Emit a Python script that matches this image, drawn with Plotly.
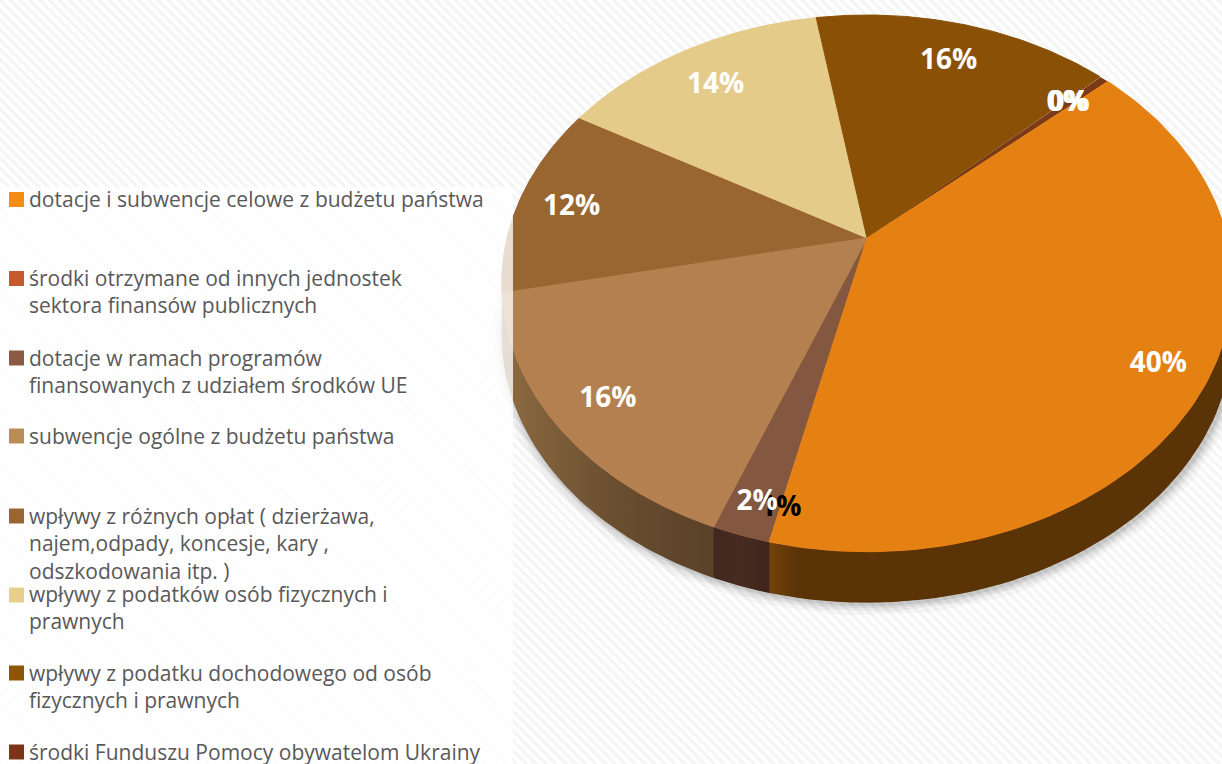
import numpy as np
import plotly.graph_objects as go

# ---------- data ----------
categories = [
    "dotacje i subwencje celowe z budżetu państwa",
    "środki otrzymane od innych jednostek<br>sektora finansów publicznych",
    "dotacje w ramach programów<br>finansowanych z udziałem środków UE",
    "subwencje ogólne z budżetu państwa",
    "wpływy z różnych opłat ( dzierżawa,<br>najem,odpady, koncesje, kary ,<br>odszkodowania itp. )",
    "wpływy z podatków osób fizycznych i<br>prawnych",
    "wpływy z podatku dochodowego od osób<br>fizycznych i prawnych",
    "środki Funduszu Pomocy obywatelom Ukrainy",
]
values = [40.3, 0.0, 2.2, 15.9, 11.6, 14.05, 15.5, 0.5]
labels = ["40%", "1%", "2%", "16%", "12%", "14%", "16%", "0%"]

# ---------- styles / layout ----------
top_colors = ["#E58112", "#C55A2E", "#845840", "#B5804F", "#996530", "#E5CB8A", "#8A5006", "#7A3A17"]
legend_colors = ["#F28E14", "#C55A2E", "#8A5A44", "#B98C58", "#996633", "#E8CE8C", "#8F5506", "#7B3516"]
wall_scales = [
    [[0, "#73420C"], [0.06, "#5A3306"], [1, "#5A3306"]],
    [[0, "#5A2C14"], [1, "#5A2C14"]],
    [[0, "#40281E"], [0.5, "#472B20"], [1, "#3E261C"]],
    [[0, "#8E6C42"], [0.5, "#6B4F30"], [1, "#594128"]],
    [[0, "#8E6C42"], [1, "#8E6C42"]],
    [[0, "#8E6C42"], [1, "#8E6C42"]],
    [[0, "#5A3306"], [1, "#5A3306"]],
    [[0, "#5A2C14"], [1, "#5A2C14"]],
]
label_colors = ["white", "black", "white", "white", "white", "white", "white", "white"]
label_radius = [0.87, 0.90, 0.89, 0.85, 0.85, 0.81, 0.81, 0.83]
label_dx = [0, 0, 0, -2, 0, -2, 0, 2]
label_dy = [2, 3, 6, 4, 4, 4, 1, 0]
legend_tops = [183, 262, 342, 420, 500, 578, 657, 736]
legend_swatch_y = [199.5, 278.5, 358, 436, 516, 595, 673, 752]

W, H = 1222, 764
APEX_X, APEX_Y = 867, 238
SX, SY, K = 360, 260.7, 0.169
START = 48.1       # clockwise from north
DEPTH = 51
FONT = "Open Sans"


def project(angle_deg, r=1.0):
    a = np.radians(angle_deg)
    u, v = r * np.sin(a), r * np.cos(a)
    den = 1 + K * v
    return APEX_X + SX * u / den, APEX_Y - SY * v / den


shares = np.array(values) / sum(values) * 360
edges = START + np.concatenate([[0], np.cumsum(shares)])

fig = go.Figure()

# hatched background
fig.add_trace(go.Scatter(
    x=[0, W, W, 0, 0], y=[0, 0, H, H, 0], mode="none", fill="toself",
    fillcolor="white", hoverinfo="skip", showlegend=False,
    fillpattern=dict(shape="\\", size=7, solidity=0.5, fgcolor="#EBEBEB", bgcolor="white"),
))

# soft shadow under the lower rim
arc = np.linspace(85, 278, 200)
sx, sy = project(arc)
for width, alpha in [(24, 0.03), (16, 0.05), (10, 0.06), (5, 0.08)]:
    fig.add_trace(go.Scatter(
        x=sx + 2, y=sy + DEPTH + 1, mode="lines",
        line=dict(color=f"rgba(0,0,0,{alpha})", width=width),
        hoverinfo="skip", showlegend=False,
    ))

# side walls, over a continuous dark base so no seams show between them
bx, by = project(np.linspace(90, 270, 200))
fig.add_trace(go.Scatter(
    x=np.concatenate([bx, bx[::-1], bx[:1]]),
    y=np.concatenate([by, by[::-1] + DEPTH - 0.5, by[:1]]),
    mode="lines", line=dict(width=0), fill="toself", fillcolor="#4A2D12",
    hoverinfo="skip", showlegend=False,
))
for i, col in enumerate(wall_scales):
    if shares[i] == 0:
        continue
    a = np.linspace(edges[i], edges[i + 1], 80)
    px, py = project(a)
    mask = (a % 360 > 80) & (a % 360 < 285)
    if not mask.any():
        continue
    px, py = px[mask], py[mask]
    fig.add_trace(go.Scatter(
        x=np.concatenate([px, px[::-1], px[:1]]),
        y=np.concatenate([py, py[::-1] + DEPTH, py[:1]]),
        mode="lines", line=dict(width=0), fill="toself",
        fillgradient=dict(type="horizontal", colorscale=col),
        hoverinfo="skip", showlegend=False,
    ))

# top faces: thin slices first, so that the big ones close the seams
for i in np.argsort(values):
    if shares[i] == 0:
        continue
    col = top_colors[i]
    a = np.linspace(edges[i], edges[i + 1], 120)
    px, py = project(a)
    wide = shares[i] > 5
    fig.add_trace(go.Scatter(
        x=np.concatenate([[APEX_X], px, [APEX_X]]),
        y=np.concatenate([[APEX_Y], py, [APEX_Y]]),
        mode="lines", line=dict(width=1 if wide else 0, color=col), fill="toself", fillcolor=col,
        name=categories[i].replace("<br>", " "), hoverinfo="name", showlegend=False,
    ))

# data labels
mid = (edges[:-1] + edges[1:]) / 2
lx, ly = project(mid, np.array(label_radius))
lx = lx + np.array(label_dx)
ly = ly + np.array(label_dy)
fig.add_trace(go.Scatter(
    x=lx, y=ly, mode="text", text=labels, textposition="middle center",
    textfont=dict(family=FONT, size=28, color=label_colors, weight="bold"),
    hoverinfo="skip", showlegend=False,
))
fig.add_trace(go.Scatter(
    x=[lx[-1] - 2], y=[ly[-1]], mode="text", text=[labels[-1]], textposition="middle center",
    textfont=dict(family=FONT, size=28, color="white", weight="bold"),
    hoverinfo="skip", showlegend=False,
))

# translucent white panel behind the legend + legend
shapes = [dict(type="rect", xref="x", yref="y", x0=0, x1=513, y0=187, y1=H,
               fillcolor="rgba(255,255,255,0.78)", line_width=0, layer="above")]
annotations = []
for name, col, top, sw in zip(categories, legend_colors, legend_tops, legend_swatch_y):
    shapes.append(dict(type="rect", xref="x", yref="y", x0=9, x1=24, y0=sw - 7.5, y1=sw + 7.5,
                       fillcolor=col, line_width=0, layer="above"))
    annotations.append(dict(
        x=27, y=top, xref="x", yref="y", xanchor="left", yanchor="top", align="left",
        text=name, showarrow=False, font=dict(family=FONT, size=21, color="#595959"),
    ))

fig.update_layout(
    width=W, height=H, margin=dict(l=0, r=0, t=0, b=0),
    paper_bgcolor="white", plot_bgcolor="white", showlegend=False,
    xaxis=dict(range=[0, W], visible=False, fixedrange=True),
    yaxis=dict(range=[H, 0], visible=False, fixedrange=True),
    shapes=shapes, annotations=annotations,
)
fig.write_html("out.html", config={"displayModeBar": False},
               post_script="document.body.style.margin='0';document.body.style.overflow='hidden';")
